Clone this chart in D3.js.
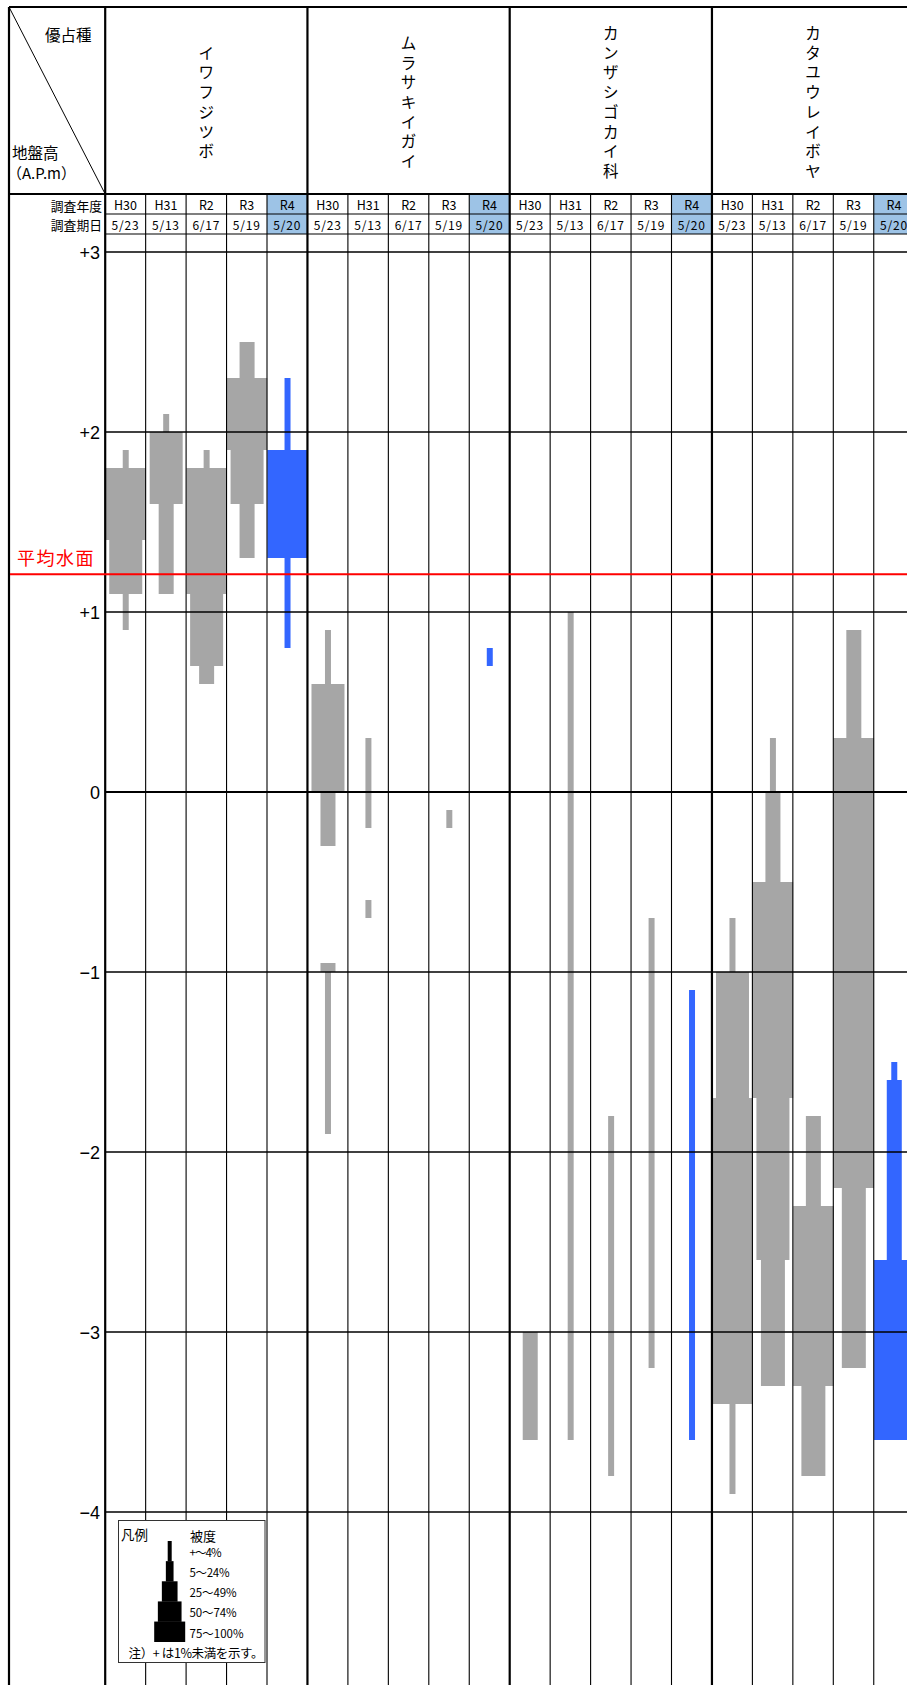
<!DOCTYPE html>
<html>
<head>
<meta charset="utf-8">
<script src="https://cdn.jsdelivr.net/npm/d3@7"></script>
<style>
  html, body { margin: 0; padding: 0; background: #fff; }
  svg { display: block; }
  text { font-family: "Noto Sans CJK JP", "Liberation Sans", sans-serif; fill: #000; }
  .num { font-family: "Liberation Sans", Arial, sans-serif; }
</style>
</head>
<body>
<svg id="chart" width="907" height="1685"></svg>
<script>
// ---- data ----------------------------------------------------------
const speciesNames = ["イワフジツボ", "ムラサキイガイ", "カンザシゴカイ科", "カタユウレイボヤ"];
const surveyYears = ["H30", "H31", "R2", "R3", "R4"];
const surveyDates = ["5/23", "5/13", "6/17", "5/19", "5/20"];
const latestYear = "R4";
const elevationTicks = [3, 2, 1, 0, -1, -2, -3, -4];
const elevationTickLabels = ["+3", "+2", "+1", "0", "−1", "−2", "−3", "−4"];
const meanSeaLevel = 1.21;
const coverClassLabels = ["+～4%", "5～24%", "25～49%", "50～74%", "75～100%"];

// each survey: list of [upper A.P. m, lower A.P. m, cover class 1..5]
const iwafujitsubo = [
  [[1.9, 1.8, 1], [1.8, 1.4, 5], [1.4, 1.1, 4], [1.1, 0.9, 1]],
  [[2.1, 2.0, 1], [2.0, 1.6, 4], [1.6, 1.1, 2]],
  [[1.9, 1.8, 1], [1.8, 1.1, 5], [1.1, 0.7, 4], [0.7, 0.6, 2]],
  [[2.5, 2.3, 2], [2.3, 1.9, 5], [1.9, 1.6, 4], [1.6, 1.3, 2]],
  [[2.3, 1.9, 1], [1.9, 1.3, 5], [1.3, 0.8, 1]]
];
const murasakiigai = [
  [[0.9, 0.6, 1], [0.6, 0, 4], [0, -0.3, 2], [-0.95, -1.0, 2], [-1.0, -1.9, 1]],
  [[0.3, -0.2, 1], [-0.6, -0.7, 1]],
  [],
  [[-0.1, -0.2, 1]],
  [[0.8, 0.7, 1]]
];
const kanzashigokai = [
  [[-3.0, -3.6, 2]],
  [[1.0, -3.6, 1]],
  [[-1.8, -3.8, 1]],
  [[-0.7, -3.2, 1]],
  [[-1.1, -3.6, 1]]
];
const katayuureiboya = [
  [[-0.7, -1.0, 1], [-1.0, -1.7, 4], [-1.7, -3.4, 5], [-3.4, -3.9, 1]],
  [[0.3, 0, 1], [0, -0.5, 2], [-0.5, -1.7, 5], [-1.7, -2.6, 4], [-2.6, -3.3, 3]],
  [[-1.8, -2.3, 2], [-2.3, -3.3, 5], [-3.3, -3.8, 3]],
  [[0.9, 0.3, 2], [0.3, -2.2, 5], [-2.2, -3.2, 3]],
  [[-1.5, -1.6, 1], [-1.6, -2.6, 2], [-2.6, -3.6, 5]]
];
const speciesData = [iwafujitsubo, murasakiigai, kanzashigokai, katayuureiboya];

// ---- layout -------------------------------------------------------
const W = 907, H = 1685;
const tableLeft = 9, tableTop = 7, plotLeft = 105.2, colW = 40.45;
const headBottom = 194, yearBottom = 214, dateBottom = 234;
const grey = "#a6a6a6", blue = "#3366ff", headBlue = "#9dc3e6";

const svg = d3.select("#chart");

const columnKeys = d3.cross(d3.range(speciesNames.length), surveyYears)
  .map(([s, yr]) => `${s}|${yr}`);
const x = d3.scaleBand()
  .domain(columnKeys)
  .range([plotLeft, plotLeft + colW * columnKeys.length])
  .paddingInner(0).paddingOuter(0);
const y = d3.scaleLinear().domain([3, -5]).range([252, 1692]);
const coverWidth = d3.scaleOrdinal()
  .domain([1, 2, 3, 4, 5])
  .range([0.148, 0.371, 0.593, 0.816, 1.0]);

// header shading for the latest survey
svg.append("g").selectAll("rect")
  .data(columnKeys.filter(k => k.endsWith("|" + latestYear)))
  .join("rect")
  .attr("x", k => x(k))
  .attr("y", headBottom)
  .attr("width", x.bandwidth())
  .attr("height", dateBottom - headBottom)
  .attr("fill", headBlue);

// ---- coverage bars --------------------------------------------------
const segments = [];
speciesData.forEach((surveys, s) => {
  surveys.forEach((segs, i) => {
    segs.forEach(([top, bottom, cls]) => {
      segments.push({ key: `${s}|${surveyYears[i]}`, year: surveyYears[i], top, bottom, cls });
    });
  });
});

svg.append("g").selectAll("rect")
  .data(segments)
  .join("rect")
  .attr("x", d => x(d.key) + (x.bandwidth() * (1 - coverWidth(d.cls))) / 2 + 0.3)
  .attr("y", d => y(d.top))
  .attr("width", d => x.bandwidth() * coverWidth(d.cls))
  .attr("height", d => y(d.bottom) - y(d.top))
  .attr("fill", d => d.year === latestYear ? blue : grey);

// ---- grid ------------------------------------------------------------
const grid = svg.append("g").attr("stroke", "#000");

grid.selectAll("line.h")
  .data(elevationTicks)
  .join("line")
  .attr("class", "h")
  .attr("x1", plotLeft).attr("x2", W)
  .attr("y1", d => y(d)).attr("y2", d => y(d))
  .attr("stroke-width", d => d === 0 ? 2 : 1.3);

// header row rules
grid.append("line").attr("x1", tableLeft).attr("x2", W)
  .attr("y1", tableTop).attr("y2", tableTop).attr("stroke-width", 2);
grid.append("line").attr("x1", tableLeft).attr("x2", W)
  .attr("y1", headBottom).attr("y2", headBottom).attr("stroke-width", 1.8);
[yearBottom, dateBottom].forEach(v => {
  grid.append("line").attr("x1", plotLeft).attr("x2", W)
    .attr("y1", v).attr("y2", v).attr("stroke-width", 1.1);
});

// column rules
grid.selectAll("line.v")
  .data(columnKeys)
  .join("line")
  .attr("class", "v")
  .attr("x1", k => x(k)).attr("x2", k => x(k))
  .attr("y1", k => k.endsWith("|" + surveyYears[0]) ? tableTop : headBottom)
  .attr("y2", H)
  .attr("stroke-width", k => k.endsWith("|" + surveyYears[0]) ? 2.2 : 1.1);

// outer left border and corner diagonal
grid.append("line").attr("x1", tableLeft).attr("x2", tableLeft)
  .attr("y1", tableTop).attr("y2", H).attr("stroke-width", 2.2);
grid.append("line").attr("x1", tableLeft).attr("y1", tableTop)
  .attr("x2", plotLeft).attr("y2", headBottom).attr("stroke-width", 1);

// mean sea level
svg.append("line")
  .attr("x1", 10).attr("x2", W)
  .attr("y1", y(meanSeaLevel)).attr("y2", y(meanSeaLevel))
  .attr("stroke", "#ff0000").attr("stroke-width", 2);
svg.append("text")
  .attr("x", 17).attr("y", y(meanSeaLevel) - 17)
  .attr("dominant-baseline", "central")
  .attr("font-size", 18).attr("letter-spacing", 1.5)
  .style("fill", "#ff0000")
  .text("平均水面");

// ---- y-axis labels ---------------------------------------------------
svg.append("g").selectAll("text")
  .data(elevationTicks)
  .join("text")
  .attr("class", "num")
  .attr("x", 100).attr("y", d => y(d) + 1)
  .attr("text-anchor", "end")
  .attr("dominant-baseline", "central")
  .attr("font-size", 18)
  .text((d, i) => elevationTickLabels[i]);

// ---- header text -----------------------------------------------------
svg.append("text").attr("x", 45).attr("y", 34)
  .attr("dominant-baseline", "central").attr("font-size", 15.5).text("優占種");
svg.append("text").attr("x", 12).attr("y", 152)
  .attr("dominant-baseline", "central").attr("font-size", 15.5).text("地盤高");
svg.append("text").attr("x", 7).attr("y", 172)
  .attr("dominant-baseline", "central").attr("font-size", 15).text("（A.P.m）");
svg.append("text").attr("x", 102).attr("y", 205)
  .attr("text-anchor", "end").attr("dominant-baseline", "central")
  .attr("font-size", 12.8).text("調査年度");
svg.append("text").attr("x", 102).attr("y", 224.5)
  .attr("text-anchor", "end").attr("dominant-baseline", "central")
  .attr("font-size", 12.8).text("調査期日");

// species names, written vertically
speciesNames.forEach((name, s) => {
  const cx = x(`${s}|${surveyYears[0]}`) + x.bandwidth() * surveyYears.length / 2;
  const chars = Array.from(name);
  svg.append("g").selectAll("text")
    .data(chars)
    .join("text")
    .attr("x", cx)
    .attr("y", (c, i) => 101 + (i - (chars.length - 1) / 2) * 19.7)
    .attr("text-anchor", "middle")
    .attr("dominant-baseline", "central")
    .attr("font-size", 15.5)
    .text(c => c);
});

// survey year and date per column
svg.append("g").selectAll("text")
  .data(columnKeys)
  .join("text")
  .attr("x", k => x(k) + x.bandwidth() / 2)
  .attr("y", 204.5)
  .attr("text-anchor", "middle").attr("dominant-baseline", "central")
  .attr("font-size", 12.5)
  .text(k => k.split("|")[1]);
svg.append("g").selectAll("text")
  .data(columnKeys)
  .join("text")
  .attr("x", k => x(k) + x.bandwidth() / 2)
  .attr("y", 224.5)
  .attr("text-anchor", "middle").attr("dominant-baseline", "central")
  .attr("font-size", 12).attr("letter-spacing", 0.8)
  .text(k => surveyDates[surveyYears.indexOf(k.split("|")[1])]);

// ---- legend ----------------------------------------------------------
const lg = svg.append("g");
lg.append("rect")
  .attr("x", 118.5).attr("y", 1520.5).attr("width", 146.5).attr("height", 142)
  .attr("fill", "#fff").attr("stroke", "#333").attr("stroke-width", 1);
lg.append("text").attr("x", 121).attr("y", 1534)
  .attr("dominant-baseline", "central").attr("font-size", 13.5).text("凡例");
lg.append("text").attr("x", 190).attr("y", 1535)
  .attr("dominant-baseline", "central").attr("font-size", 13).text("被度");

const legendWidth = d3.scaleOrdinal().domain([1, 2, 3, 4, 5]).range([4, 7.7, 15.7, 23.7, 31]);
const legendY = d3.scaleLinear().domain([0, 5]).range([1541, 1641.7]);
lg.selectAll("rect.step")
  .data(d3.range(1, 6))
  .join("rect")
  .attr("class", "step")
  .attr("x", c => 169.7 - legendWidth(c) / 2)
  .attr("y", c => legendY(c - 1))
  .attr("width", c => legendWidth(c))
  .attr("height", legendY(1) - legendY(0) + 0.3)
  .attr("fill", "#000");
lg.selectAll("text.cls")
  .data(coverClassLabels)
  .join("text")
  .attr("class", "cls")
  .attr("x", 189.5)
  .attr("y", (d, i) => legendY(i + 0.5) + 1)
  .attr("dominant-baseline", "central")
  .attr("font-size", 11.5)
  .attr("textLength", (d, i) => [32, 40, 47, 47, 54][i])
  .text(d => d);
lg.append("text").attr("x", 128.5).attr("y", 1652)
  .attr("dominant-baseline", "central").attr("font-size", 12.5)
  .attr("textLength", 135)
  .text("注）+ は1%未満を示す。");
</script>
</body>
</html>
